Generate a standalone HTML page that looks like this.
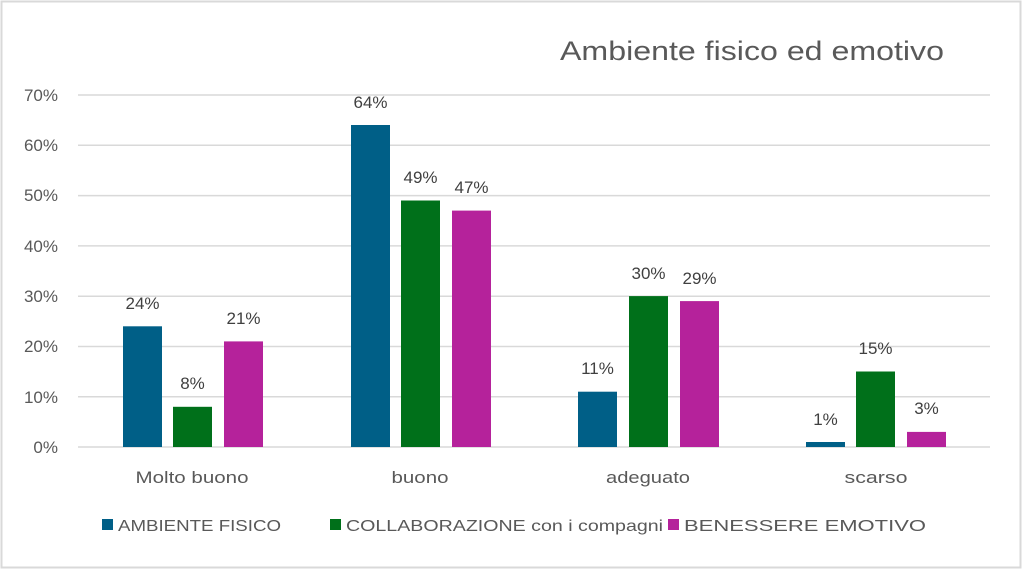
<!DOCTYPE html>
<html><head><meta charset="utf-8"><style>
body{margin:0;background:#fff;}
svg{display:block;font-family:"Liberation Sans",sans-serif;}
</style></head><body>
<svg width="1024" height="573" viewBox="0 0 1024 573">
<rect x="1.5" y="1.5" width="1019" height="566" fill="#fff" stroke="#d9d9d9" stroke-width="2"/>
<text x="560" y="60" font-size="27" fill="#595959" textLength="384" lengthAdjust="spacingAndGlyphs">Ambiente fisico ed emotivo</text>
<g stroke="#d9d9d9" stroke-width="1.5">
<line x1="78" x2="990" y1="95" y2="95"/><line x1="78" x2="990" y1="145.3" y2="145.3"/>
<line x1="78" x2="990" y1="195.6" y2="195.6"/><line x1="78" x2="990" y1="245.9" y2="245.9"/>
<line x1="78" x2="990" y1="296.2" y2="296.2"/><line x1="78" x2="990" y1="346.5" y2="346.5"/>
<line x1="78" x2="990" y1="396.8" y2="396.8"/><line x1="78" x2="990" y1="447" y2="447"/>
</g>
<g font-size="17" fill="#595959" text-anchor="end">
<text x="58" y="101">70%</text><text x="58" y="151">60%</text><text x="58" y="201">50%</text>
<text x="58" y="252">40%</text><text x="58" y="302">30%</text><text x="58" y="352">20%</text>
<text x="58" y="403">10%</text><text x="58" y="453">0%</text>
</g>
<g>
<rect x="123" y="326.3" width="39" height="120.7" fill="#005f87"/>
<rect x="173" y="406.8" width="39" height="40.2" fill="#00701a"/>
<rect x="224" y="341.4" width="39" height="105.6" fill="#b5229b"/>
<rect x="351" y="125" width="39" height="322" fill="#005f87"/>
<rect x="401" y="200.5" width="39" height="246.5" fill="#00701a"/>
<rect x="452" y="210.6" width="39" height="236.4" fill="#b5229b"/>
<rect x="578" y="391.7" width="39" height="55.3" fill="#005f87"/>
<rect x="629" y="296.1" width="39" height="150.9" fill="#00701a"/>
<rect x="680" y="301.1" width="39" height="145.9" fill="#b5229b"/>
<rect x="806" y="442" width="39" height="5" fill="#005f87"/>
<rect x="856" y="371.5" width="39" height="75.5" fill="#00701a"/>
<rect x="907" y="431.9" width="39" height="15.1" fill="#b5229b"/>
</g>
<g font-size="17" fill="#404040" text-anchor="middle">
<text x="142.5" y="309">24%</text><text x="192.5" y="389">8%</text><text x="243.5" y="324">21%</text>
<text x="370.5" y="108">64%</text><text x="420.5" y="183">49%</text><text x="471.5" y="193">47%</text>
<text x="597.5" y="374">11%</text><text x="648.5" y="279">30%</text><text x="699.5" y="284">29%</text>
<text x="825.5" y="425">1%</text><text x="875.5" y="354">15%</text><text x="926.5" y="414">3%</text>
</g>
<g font-size="17" fill="#595959" text-anchor="middle">
<text x="192" y="483" textLength="113" lengthAdjust="spacingAndGlyphs">Molto buono</text>
<text x="420" y="483" textLength="57" lengthAdjust="spacingAndGlyphs">buono</text>
<text x="648" y="483" textLength="84" lengthAdjust="spacingAndGlyphs">adeguato</text>
<text x="876" y="483" textLength="63" lengthAdjust="spacingAndGlyphs">scarso</text>
</g>
<g font-size="16" fill="#595959">
<rect x="102" y="519" width="11" height="11" fill="#005f87"/><text x="118" y="531" textLength="163" lengthAdjust="spacingAndGlyphs">AMBIENTE FISICO</text>
<rect x="330" y="519" width="11" height="11" fill="#00701a"/><text x="346" y="531" textLength="317" lengthAdjust="spacingAndGlyphs">COLLABORAZIONE con i compagni</text>
<rect x="668" y="519" width="11" height="11" fill="#b5229b"/><text x="684" y="531" textLength="242" lengthAdjust="spacingAndGlyphs">BENESSERE EMOTIVO</text>
</g>
</svg>
</body></html>
